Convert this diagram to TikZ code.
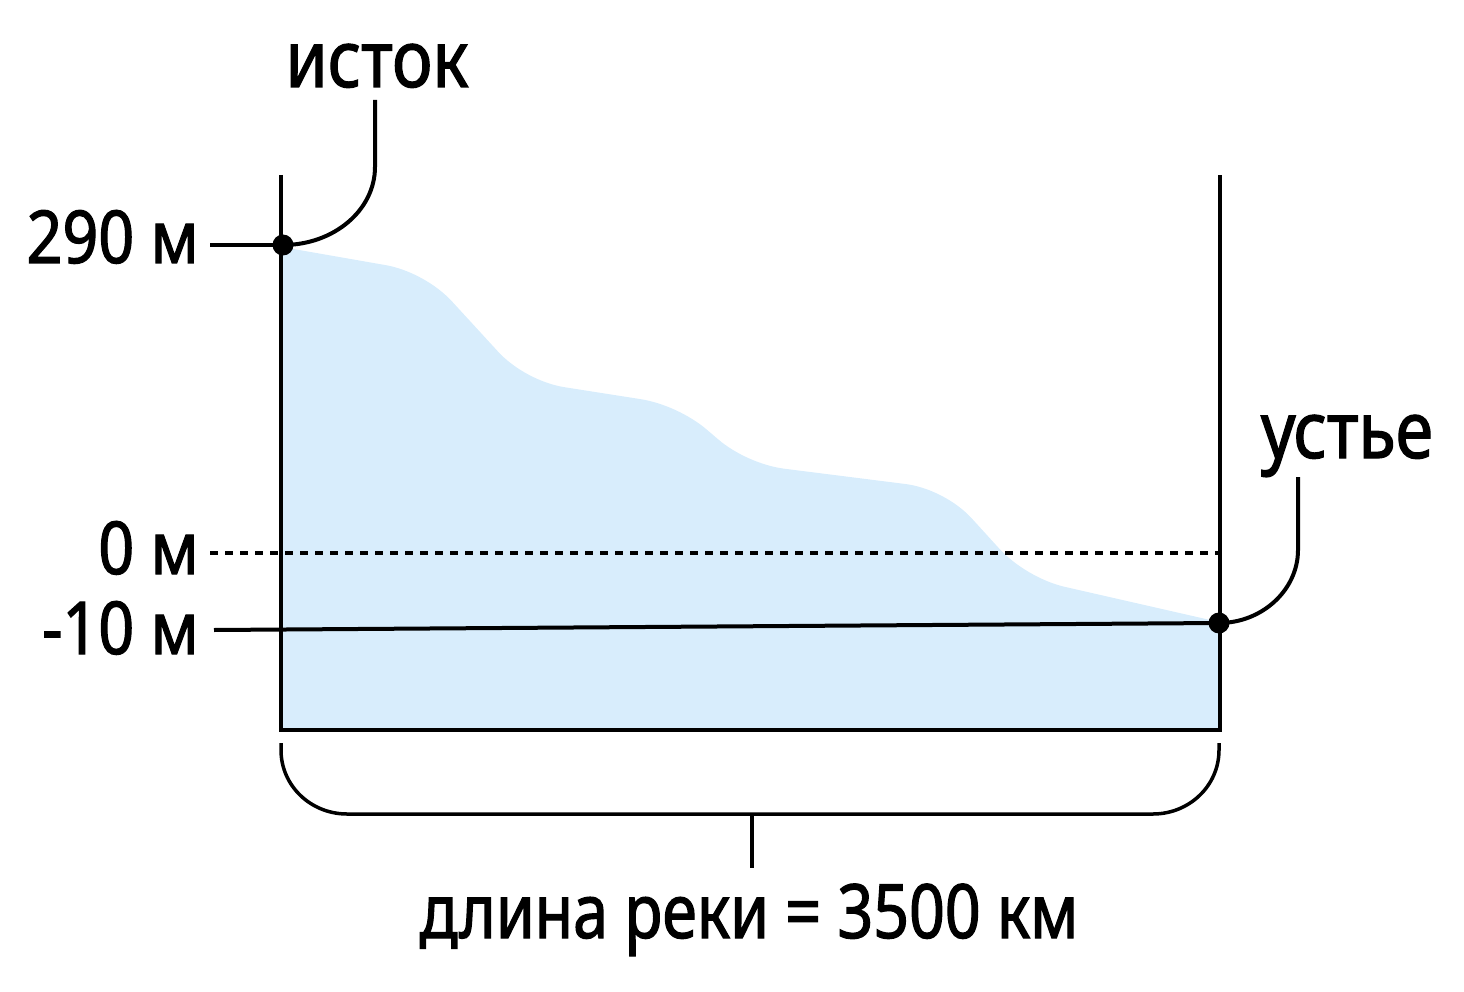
\documentclass[tikz,border=0pt]{standalone}
\usepackage{fontspec}
\setmainfont{Noto Sans}
\newfontfamily\labfont[FakeStretch=0.86,FakeBold=1.6]{Noto Sans}
\newfontfamily\lenfont[FakeStretch=0.835,FakeBold=1.6]{Noto Sans}
\usetikzlibrary{calc}
\definecolor{river}{RGB}{216,237,252}
\tikzset{
  frame/.style={line width=3.5pt, black},
  conn/.style={line width=4pt, black},
  dotnode/.style={circle, fill=black, inner sep=0pt, minimum size=21pt},
  numlabel/.style={font=\labfont\fontsize{73}{73}\selectfont, anchor=base east, inner sep=0pt},
  wordlabel/.style={font=\labfont\fontsize{79}{79}\selectfont, anchor=base, inner sep=0pt},
}
\begin{document}
\begin{tikzpicture}[x=1pt,y=-1pt]
\useasboundingbox (0,0) rectangle (1464,992);
% river profile
\coordinate (p0) at (282,247);
\coordinate (v1) at (425,272);
\coordinate (v2) at (525,381);
\coordinate (v3) at (678,405);
\coordinate (v4) at (747,464);
\coordinate (v5) at (945,489);
\coordinate (v6) at (1026,578);
\coordinate (p7) at (1219,622);
\fill[river] (282,730) -- (p0)
  -- ($(v1)!40pt!(p0)$) .. controls ($(v1)!16pt!(p0)$) and ($(v1)!16pt!(v2)$) .. ($(v1)!40pt!(v2)$)
  -- ($(v2)!40pt!(v1)$) .. controls ($(v2)!16pt!(v1)$) and ($(v2)!16pt!(v3)$) .. ($(v2)!40pt!(v3)$)
  -- ($(v3)!38pt!(v2)$) .. controls ($(v3)!15pt!(v2)$) and ($(v3)!15pt!(v4)$) .. ($(v3)!38pt!(v4)$)
  -- ($(v4)!38pt!(v3)$) .. controls ($(v4)!15pt!(v3)$) and ($(v4)!15pt!(v5)$) .. ($(v4)!38pt!(v5)$)
  -- ($(v5)!40pt!(v4)$) .. controls ($(v5)!16pt!(v4)$) and ($(v5)!16pt!(v6)$) .. ($(v5)!40pt!(v6)$)
  -- ($(v6)!40pt!(v5)$) .. controls ($(v6)!16pt!(v5)$) and ($(v6)!16pt!(p7)$) .. ($(v6)!40pt!(p7)$)
  -- (p7) -- (1219,730) -- cycle;
% frame
\coordinate (ltop) at (281,175);
\coordinate (lbot) at (281,730);
\coordinate (rtop) at (1220,175);
\coordinate (rbot) at (1220,730);
\draw[frame] (ltop) -- (lbot) -- (rbot) -- (rtop);
% labels
\node[numlabel] (t290) at (199,263) {290 м};
\node[numlabel] (t0) at (199,574) {0 м};
\node[numlabel] (t10) at (199,654) {-10 м};
\node[wordlabel] (tsrc) at (377,87) {исток};
\node[wordlabel] (tmouth) at (1347,458) {устье};
\node[font=\lenfont\fontsize{75}{75}\selectfont, anchor=base, inner sep=0pt] (tlen) at (749,938) {длина реки = 3500 км};
% dots
\node[dotnode] (src) at (283,245) {};
\node[dotnode] (mouth) at (1219,623) {};
% level lines
\coordinate (l290) at (210,245);
\draw[conn] (l290) -- (src.center);
\coordinate (l0a) at (210,553);
\coordinate (l0b) at (1220,553);
\draw[conn, dash pattern=on 8pt off 7pt] (l0a) -- (l0b);
\coordinate (l10) at (214,630);
\draw[conn] (l10) -- (mouth.center);
% callouts
\coordinate (csrc) at (375,100);
\draw[conn] (src.center) .. controls (334,245) and (375,210) .. (375,167) -- (csrc);
\coordinate (cmouth) at (1298,477);
\draw[conn] (mouth.center) .. controls (1262,623) and (1298,590) .. (1298,550) -- (cmouth);
% brace
\coordinate (bl) at (281,743);
\coordinate (br) at (1219,743);
\coordinate (btick) at (752,868);
\draw[frame] (bl) -- (281,750) .. controls (281,786) and (311,814) .. (347,814)
  -- (1153,814) .. controls (1189,814) and (1219,786) .. (1219,750) -- (br);
\draw[frame] (752,814) -- (btick);
\end{tikzpicture}
\end{document}
